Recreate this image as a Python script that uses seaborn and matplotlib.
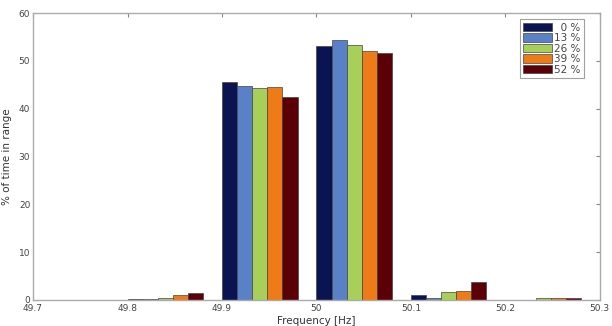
import matplotlib
matplotlib.use("Agg")
import matplotlib.pyplot as plt
import seaborn as sns
import pandas as pd

freq_bins = [49.84, 49.94, 50.04, 50.14, 50.24]
levels = ["0 %", "13 %", "26 %", "39 %", "52 %"]
share_0 = [0.2, 45.5, 53.2, 1.05, 0.0]
share_13 = [0.15, 44.8, 54.4, 0.5, 0.0]
share_26 = [0.4, 44.3, 53.3, 1.7, 0.3]
share_39 = [1.0, 44.5, 52.0, 1.95, 0.5]
share_52 = [1.45, 42.4, 51.7, 3.8, 0.3]
xticks = [49.7, 49.8, 49.9, 50.0, 50.1, 50.2, 50.3]
xtick_labels = ["49.7", "49.8", "49.9", "50", "50.1", "50.2", "50.3"]
yticks = [0, 10, 20, 30, 40, 50, 60]
colors = ["#0b1452", "#5a80c8", "#a8cf5a", "#ef7a18", "#5c0008"]

rows = []
for lev, vals in zip(levels, [share_0, share_13, share_26, share_39, share_52]):
    for f, v in zip(freq_bins, vals):
        rows.append({"freq": f, "level": lev, "share": v})
df = pd.DataFrame(rows)

sns.set_style("white")
plt.rcParams["font.family"] = ["DejaVu Sans"]
fig = plt.figure(figsize=(6.12, 3.26), dpi=100)
ax = fig.add_axes([0.054, 0.080, 0.926, 0.880])
sns.barplot(data=df, x="freq", y="share", hue="level", hue_order=levels,
            palette=colors, native_scale=True, width=0.8, ax=ax,
            edgecolor="#444444", linewidth=0.5, saturation=1, errorbar=None)
ax.set_xlim(49.7, 50.3)
ax.set_ylim(0, 60)
ax.set_xticks(xticks)
ax.set_xticklabels(xtick_labels)
ax.set_yticks(yticks)
ax.tick_params(direction="in", length=3, width=0.8, color="#888888",
               labelsize=6.5, labelcolor="#444444", top=True, right=True, pad=2)
ax.tick_params(axis="x", pad=3)
for s in ax.spines.values():
    s.set_color("#aaaaaa")
    s.set_linewidth(1.0)
ax.set_xlabel("Frequency [Hz]", fontsize=7.5, color="#333333", labelpad=2)
ax.set_ylabel("% of time in range", fontsize=7.5, color="#333333", labelpad=5)
leg = ax.legend(loc="upper right", bbox_to_anchor=(0.975, 0.985), fontsize=7.5,
                frameon=True, fancybox=False, edgecolor="#888888",
                handlelength=2.8, handleheight=0.9, handletextpad=0.2,
                labelspacing=0.05, borderpad=0.3, borderaxespad=0.2)
leg.get_frame().set_linewidth(0.8)
for t in leg.get_texts():
    t.set_color("#444444")
    if len(t.get_text()) == 3:
        t.set_text("\u2007" + t.get_text())
fig.savefig("out.png", dpi=100)
